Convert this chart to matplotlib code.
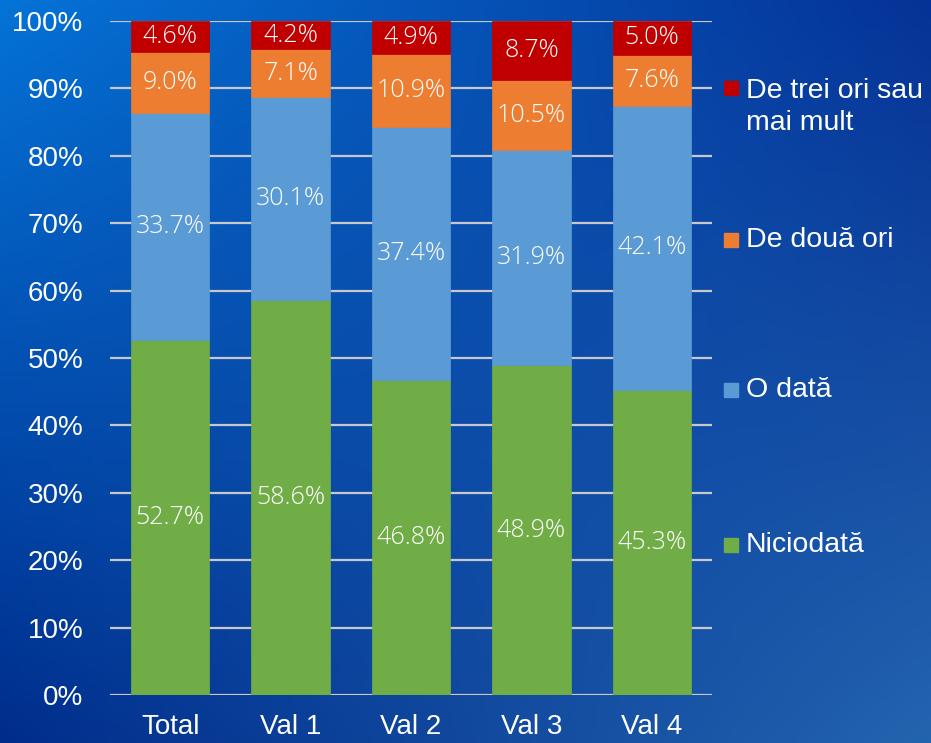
import numpy as np
import matplotlib
matplotlib.use("Agg")
import matplotlib.pyplot as plt
from matplotlib.patches import Rectangle

# data
categories = ["Total", "Val 1", "Val 2", "Val 3", "Val 4"]
niciodata = [52.7, 58.6, 46.8, 48.9, 45.3]
o_data = [33.7, 30.1, 37.4, 31.9, 42.1]
de_doua_ori = [9.0, 7.1, 10.9, 10.5, 7.6]
de_trei_ori = [4.6, 4.2, 4.9, 8.7, 5.0]

series = [niciodata, o_data, de_doua_ori, de_trei_ori]
labels = ["Niciodată", "O dată", "De două ori", "De trei ori sau\nmai mult"]
colors = ["#70ad47", "#5b9bd5", "#ed7d31", "#c00000"]

W, H = 931, 743
fig = plt.figure(figsize=(W / 100, H / 100), dpi=100)

# blue gradient background
bg = fig.add_axes([0, 0, 1, 1], zorder=-10)
tl = np.array([5, 115, 215]) / 255
tr = np.array([5, 50, 150]) / 255
bl = np.array([0, 45, 140]) / 255
br = np.array([35, 100, 175]) / 255
u = np.linspace(0, 1, 200)[None, :, None]
v = np.linspace(0, 1, 160)[:, None, None]
img = (1 - v) * ((1 - u) * tl + u * tr) + v * ((1 - u) * bl + u * br)
bg.imshow(img, aspect="auto", extent=[0, 1, 0, 1])
bg.axis("off")

ax = fig.add_axes([110 / W, 1 - 695 / H, 602 / W, 674 / H])
ax.set_facecolor("none")

x = np.arange(len(categories))
bottom = np.zeros(len(categories))
for vals, col in zip(series, colors):
    bars = ax.bar(x, vals, 0.65, bottom=bottom, color=col, zorder=3,
                  edgecolor=col, linewidth=0.5)
    for b, val, bt in zip(bars, vals, bottom):
        ax.text(b.get_x() + b.get_width() / 2, bt + val / 2, f"{val:.1f}%",
                ha="center", va="center", color="white", fontsize=18,
                family="Open Sans", fontweight="light", zorder=4)
    bottom = bottom + np.array(vals)

ax.set_xlim(-0.5, 4.5)
ax.set_ylim(0, 100)
ax.set_yticks(np.arange(0, 101, 10))
ax.set_yticklabels([f"{t}%" for t in range(0, 101, 10)])
ax.set_xticks(x)
ax.set_xticklabels(categories)
ax.yaxis.grid(True, color="#c8c8cc", linewidth=1.6, zorder=0)
ax.set_axisbelow(True)
for s in ax.spines.values():
    s.set_visible(False)
ax.tick_params(axis="y", length=0, pad=19, labelsize=20, labelcolor="white")
ax.tick_params(axis="x", length=0, pad=14, labelsize=20, labelcolor="white")
for t in ax.get_xticklabels() + ax.get_yticklabels():
    t.set_family("Liberation Sans")

# legend on the right
leg_y = [545, 390, 240, 88]
for lab, col, yy in zip(labels, colors, leg_y):
    fig.patches.append(Rectangle((724 / W, 1 - (yy + 7) / H), 14 / W, 14 / H,
                                 transform=fig.transFigure, color=col))
    if "\n" in lab:
        fig.text(746 / W, 1 - (yy - 10) / H, lab, ha="left", va="top",
                 color="white", fontsize=20.5, family="Liberation Sans",
                 linespacing=1.32)
    else:
        fig.text(746 / W, 1 - yy / H, lab, ha="left", va="center",
                 color="white", fontsize=20.5, family="Liberation Sans")

fig.savefig("out.png", dpi=100)
